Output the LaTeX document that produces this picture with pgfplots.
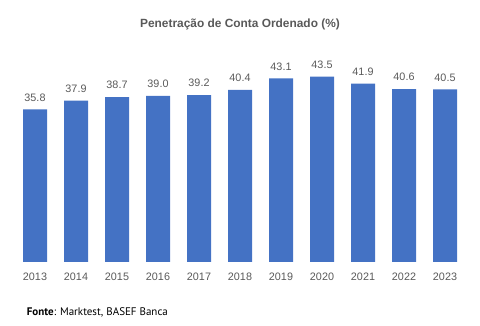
\documentclass[border=0pt]{standalone}
\usepackage{fontspec}
\setmainfont{Liberation Sans}
\newfontfamily\footfont{PT Sans}
\usepackage{pgfplots}
\pgfplotsset{compat=1.18}
\definecolor{barblue}{HTML}{4472C4}
\definecolor{txtgray}{HTML}{595959}
\begin{document}
\begin{tikzpicture}
\useasboundingbox (0,0) rectangle (480bp,326bp);
\begin{axis}[
  at={(14.5bp,64bp)}, anchor=south west,
  scale only axis, width=451bp, height=213bp,
  xmin=-0.5, xmax=10.5, ymin=0, ymax=50,
  clip=false,
  axis line style={draw=none},
  major tick length=0pt,
  ytick=\empty,
  xtick=data,
  xticklabels={2013,2014,2015,2016,2017,2018,2019,2020,2021,2022,2023},
  xticklabel style={anchor=north, inner sep=0pt, yshift=-11bp, font=\fontsize{10.8bp}{12bp}\selectfont, text=txtgray},
  ybar, bar width=24bp,
  nodes near coords,
  nodes near coords style={anchor=south, inner sep=0pt, yshift=8bp, font=\fontsize{10.8bp}{12bp}\selectfont, text=txtgray, /pgf/number format/.cd, fixed, fixed zerofill, precision=1, assume math mode=true},
]
\addplot[fill=barblue, draw=none] coordinates {
(0,35.8) (1,37.9) (2,38.7) (3,39.0) (4,39.2) (5,40.4) (6,43.1) (7,43.5) (8,41.9) (9,40.6) (10,40.5)};
\end{axis}
\node[anchor=base, inner sep=0pt, text=txtgray, font=\bfseries\fontsize{11.9bp}{13bp}\selectfont] at (240bp,298.7bp) {Penetração de Conta Ordenado (\%)};
\node[anchor=base west, inner sep=0pt, font=\footfont\fontsize{11bp}{13bp}\selectfont] at (26.7bp,10.3bp) {\textbf{Fonte}: Marktest, BASEF Banca};
\end{tikzpicture}
\end{document}
